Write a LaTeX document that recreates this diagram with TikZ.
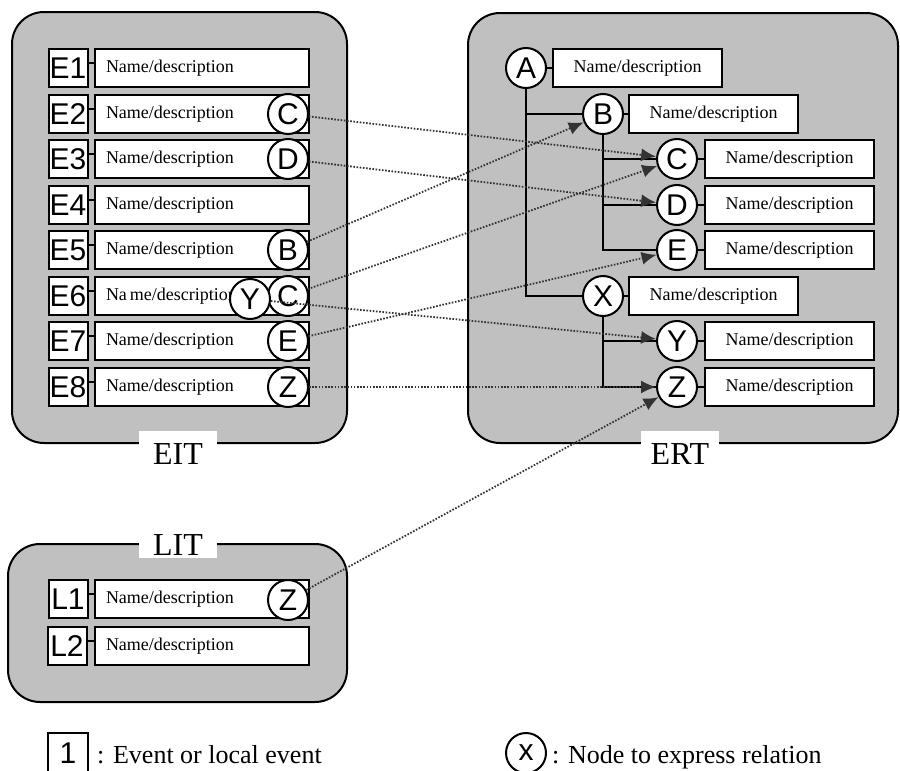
\documentclass[tikz,border=0pt]{standalone}
\usepackage{fontspec}
\setmainfont{Liberation Serif}
\setsansfont{Liberation Sans}
\usetikzlibrary{arrows.meta}
\definecolor{panelgray}{RGB}{192,192,192}
\tikzset{
  panel/.style={fill=panelgray, draw=black, line width=2pt, rounded corners=32pt},
  tabname/.style={fill=white, minimum width=78pt, inner sep=0pt, font=\fontsize{32}{32}\selectfont},
  evt/.style={draw, fill=white, line width=2pt, minimum width=39pt, minimum height=38pt, inner sep=0pt, font=\sffamily\fontsize{30}{30}\selectfont},
  desc/.style={draw, fill=white, line width=2pt, anchor=west, minimum height=38pt, text width=192pt, inner xsep=11pt, inner ysep=0pt, align=left, font=\fontsize{18}{18}\selectfont},
  rdesc/.style={draw, fill=white, line width=2pt, anchor=west, minimum height=38pt, minimum width=169pt, inner sep=0pt, font=\fontsize{18}{18}\selectfont},
  rel/.style={circle, draw, fill=white, line width=2pt, minimum size=40pt, inner sep=0pt, font=\sffamily\fontsize{30}{30}\selectfont},
  tree/.style={line width=2pt},
  link/.style={line width=1.8pt, dash pattern=on 1.6pt off 1.6pt, black!80, -{Latex[length=15pt,width=13pt]}},
  legendtext/.style={anchor=base west, inner sep=0pt, font=\fontsize{26}{26}\selectfont}
}
\begin{document}
\begin{tikzpicture}[x=1pt, y=-1pt]
            \useasboundingbox (0,0) rectangle (900,771);

            % 三个区域
            \draw[panel] (12,12) rectangle (347,443);
            \draw[panel] (468,13) rectangle (898,443);
            \draw[panel] (8,544) rectangle (347,702);
            \node[tabname, minimum height=46pt] (eit) at (178,454) {EIT};
            \node[tabname, minimum height=46pt] (ert) at (680,454) {ERT};
            \node[tabname, minimum height=26pt] (lit) at (178,545) {LIT};

            % EIT：事件与说明
            \node[evt] (e1) at (68,68) {E1};   \node[desc] (d1) at (94,68) {Name/description};
            \node[evt] (e2) at (68,114) {E2};  \node[desc] (d2) at (94,114) {Name/description};
            \node[evt] (e3) at (68,159) {E3};  \node[desc] (d3) at (94,159) {Name/description};
            \node[evt] (e4) at (68,205) {E4};  \node[desc] (d4) at (94,205) {Name/description};
            \node[evt] (e5) at (68,250) {E5};  \node[desc] (d5) at (94,250) {Name/description};
            \node[evt] (e6) at (68,296) {E6};  \node[desc] (d6) at (94,296) {Na\,me/description};
            \node[evt] (e7) at (68,341) {E7};  \node[desc] (d7) at (94,341) {Name/description};
            \node[evt] (e8) at (68,387) {E8};  \node[desc] (d8) at (94,387) {Name/description};
            \draw[tree] ([yshift=5pt]e1.east) -- ([yshift=5pt]d1.west);
            \draw[tree] ([yshift=5pt]e2.east) -- ([yshift=5pt]d2.west);
            \draw[tree] ([yshift=5pt]e3.east) -- ([yshift=5pt]d3.west);
            \draw[tree] ([yshift=5pt]e4.east) -- ([yshift=5pt]d4.west);
            \draw[tree] ([yshift=5pt]e5.east) -- ([yshift=5pt]d5.west);
            \draw[tree] ([yshift=5pt]e6.east) -- ([yshift=5pt]d6.west);
            \draw[tree] ([yshift=5pt]e7.east) -- ([yshift=5pt]d7.west);
            \draw[tree] ([yshift=5pt]e8.east) -- ([yshift=5pt]d8.west);
            \node[rel] (e2c) at (288,114) {C};
            \node[rel] (e3d) at (288,159) {D};
            \node[rel] (e5b) at (288,250) {B};
            \node[rel] (e6c) at (288,296) {C};
            \node[rel] (e6y) at (250,299) {Y};
            \node[rel] (e7e) at (288,341) {E};
            \node[rel] (e8z) at (288,387) {Z};

            % LIT：局部事件
            \node[evt] (l1) at (68,599) {L1};  \node[desc] (dl1) at (94,599) {Name/description};
            \node[evt] (l2) at (67,646) {L2};  \node[desc] (dl2) at (94,646) {Name/description};
            \draw[tree] ([yshift=5pt]l1.east) -- ([yshift=5pt]dl1.west);
            \draw[tree] ([yshift=5pt]l2.east) -- ([yshift=5pt]dl2.west);
            \node[rel] (l1z) at (288,600) {Z};

            % ERT：关系树
            \node[rel] (nA) at (526,68) {A};   \node[rdesc] (tA) at (552,68) {Name/description};
            \node[rel] (nB) at (603,114) {B};  \node[rdesc] (tB) at (628,114) {Name/description};
            \node[rel] (nC) at (677,159) {C};  \node[rdesc] (tC) at (704,159) {Name/description};
            \node[rel] (nD) at (677,205) {D};  \node[rdesc] (tD) at (704,205) {Name/description};
            \node[rel] (nE) at (677,250) {E};  \node[rdesc] (tE) at (704,250) {Name/description};
            \node[rel] (nX) at (603,296) {X};  \node[rdesc] (tX) at (628,296) {Name/description};
            \node[rel] (nY) at (677,341) {Y};  \node[rdesc] (tY) at (704,341) {Name/description};
            \node[rel] (nZ) at (677,387) {Z};  \node[rdesc] (tZ) at (704,387) {Name/description};
            \draw[tree] (nA) -- (tA);
            \draw[tree] (nB) -- (tB);
            \draw[tree] (nC) -- (tC);
            \draw[tree] (nD) -- (tD);
            \draw[tree] (nE) -- (tE);
            \draw[tree] (nX) -- (tX);
            \draw[tree] (nY) -- (tY);
            \draw[tree] (nZ) -- (tZ);
            \draw[tree] (nA.south) |- (nB.west);
            \draw[tree] (nA.south) |- (nX.west);
            \draw[tree] (nB.south) |- (nC.west);
            \draw[tree] (nB.south) |- (nD.west);
            \draw[tree] (nB.south) |- (nE.west);
            \draw[tree] (nX.south) |- (nY.west);
            \draw[tree] (nX.south) |- (nZ.west);

            % 对应关系（虚线箭头）
            \draw[link] (e2c) -- (nC);
            \draw[link] (e3d) -- (nD);
            \draw[link] (e5b) -- (nB);
            \draw[link] (e6c) -- (nC);
            \draw[link] (e6y) -- (nY);
            \draw[link] (e7e) -- (nE);
            \draw[link] (e8z) -- (nZ);
            \draw[link] (l1z) -- (nZ);

            % 图例
            \node[evt, minimum width=40pt, minimum height=40pt] (k1) at (68,753) {1};
            \node[legendtext] (k1t) at (97,763) {: Event or local event};
            \node[rel] (kx) at (526,753) {x};
            \node[legendtext] (kxt) at (552,763) {: Node to express relation};
\end{tikzpicture}
\end{document}
